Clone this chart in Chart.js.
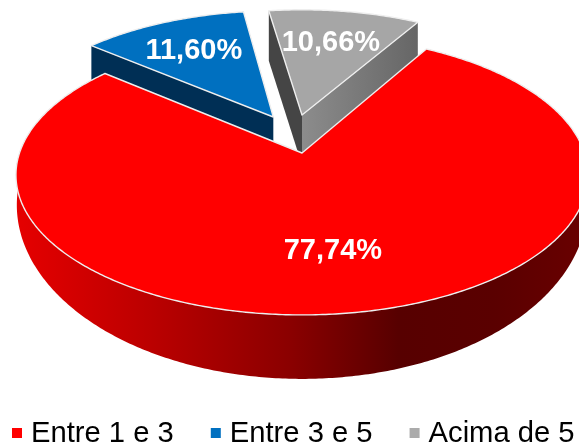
<!DOCTYPE html>
<html><head><meta charset="utf-8">
<style>html,body{margin:0;padding:0;background:#fff;overflow:hidden}canvas{display:block}</style>
<script src="https://cdn.jsdelivr.net/npm/chart.js@4/dist/chart.umd.min.js"></script>
</head><body>
<canvas id="c" width="579" height="443"></canvas>
<script>
const categories = ['Entre 1 e 3', 'Entre 3 e 5', 'Acima de 5'];
const shares = [77.74, 11.60, 10.66];
const faceColors = ['#ff0000', '#0070c0', '#a6a6a6'];
const legendColors = ['#ff0000', '#0070c0', '#ababab'];

// perspective of the pie plane
const P = {x0: 302, y0: 153, R: 282.5, a: 136.5, t: 0.157};
const look = [
  {du: 0, dv: 0, r: 1, nudge: [-6, -2]},
  {du: -0.106, dv: -0.275, r: 0.97, wall: 46, nudge: [-2.5, 0]},
  {du: 0, dv: -0.291, r: 0.965, wall: 50, nudge: [-1, 0]}
];
function proj(u, v) {
  const p = 1 / (1 - P.t * v);
  return [P.x0 + P.R * u * p, P.y0 + P.a * v * p];
}
function pt(i, ang, f) {
  const l = look[i], k = (f === undefined ? 1 : f) * l.r;
  return proj(l.du + k * Math.cos(ang), l.dv + k * Math.sin(ang));
}
function poly(ctx, pts) {
  ctx.beginPath();
  pts.forEach((q, n) => n ? ctx.lineTo(q[0], q[1]) : ctx.moveTo(q[0], q[1]));
  ctx.closePath();
}
function arcPts(i, a, b) {
  const out = [], n = Math.ceil(Math.abs(b - a) / 0.01);
  for (let k = 0; k <= n; k++) out.push(pt(i, a + (b - a) * k / n));
  return out;
}
const fmt = v => v.toFixed(2).replace('.', ',') + '%';

const pie3d = {
  id: 'pie3d',
  beforeDatasetsDraw(chart) {
    const ctx = chart.ctx, arcs = chart.getDatasetMeta(0).data;
    ctx.save();
    ctx.lineJoin = 'round';
    const drop = (q, d) => [q[0], q[1] + d];
    // blue slice
    let s = arcs[1].startAngle, e = arcs[1].endAngle, d = look[1].wall;
    let A = pt(1, s), C = pt(1, 0, 0);
    poly(ctx, [A, C, drop(C, d), drop(A, d)]);
    ctx.fillStyle = '#002f55'; ctx.fill();
    face(ctx, 1, s, e);
    // grey slice
    s = arcs[2].startAngle; e = arcs[2].endAngle; d = look[2].wall;
    A = pt(2, s); C = pt(2, 0, 0);
    const B = pt(2, e);
    poly(ctx, [A, C, drop(C, d), drop(A, d)]);
    ctx.fillStyle = '#454545'; ctx.fill();
    const g = ctx.createLinearGradient(C[0], 0, B[0], 0);
    g.addColorStop(0, '#8c8c8c'); g.addColorStop(1, '#666666');
    poly(ctx, [C, B, drop(B, d), drop(C, d)]);
    ctx.fillStyle = g; ctx.fill();
    face(ctx, 2, s, e);
    // red slice: curved side first
    s = arcs[0].startAngle; e = arcs[0].endAngle;
    const top = arcPts(0, s, e);
    const bottom = top.map(q => {
      const k = (q[1] - 175) / 140;
      const dd = Math.max(0, 30 + 34 * k);
      return [303 + (q[0] - 303) * 0.997, q[1] + dd];
    });
    const sg = ctx.createLinearGradient(15, 0, 579, 0);
    sg.addColorStop(0, '#e60000');
    sg.addColorStop(0.24, '#bb0000');
    sg.addColorStop(0.49, '#8a0000');
    sg.addColorStop(0.68, '#570000');
    sg.addColorStop(0.85, '#5a0000');
    sg.addColorStop(1, '#680000');
    poly(ctx, top.concat(bottom.reverse()));
    ctx.fillStyle = sg; ctx.fill();
    face(ctx, 0, s, e);
    ctx.restore();
    return false; // the pie is painted in perspective above
  },
  afterDraw(chart) {
    const ctx = chart.ctx, arcs = chart.getDatasetMeta(0).data;
    ctx.save();
    ctx.fillStyle = '#fff';
    ctx.font = 'bold 29px "Liberation Sans", Arial, sans-serif';
    ctx.textAlign = 'center'; ctx.textBaseline = 'middle';
    arcs.forEach((a, i) => {
      const q = pt(i, (a.startAngle + a.endAngle) / 2, 0.67);
      ctx.fillText(fmt(shares[i]), q[0] + look[i].nudge[0], q[1] + look[i].nudge[1]);
    });
    // legend along the bottom edge
    ctx.font = '29.2px "Liberation Sans", Arial, sans-serif';
    ctx.textAlign = 'left'; ctx.textBaseline = 'alphabetic';
    let x = 12;
    categories.forEach((c, i) => {
      ctx.fillStyle = legendColors[i];
      ctx.fillRect(x, 428, 10, 10);
      ctx.fillStyle = '#000';
      ctx.fillText(c, x + 19, 442);
      x += 19 + ctx.measureText(c).width + 37;
    });
    ctx.restore();
  }
};
function face(ctx, i, s, e) {
  const pts = [pt(i, 0, 0)].concat(arcPts(i, s, e));
  poly(ctx, pts);
  ctx.fillStyle = faceColors[i]; ctx.fill();
  ctx.strokeStyle = '#eeeeee'; ctx.lineWidth = 1.4; ctx.stroke();
}

new Chart(document.getElementById('c'), {
  type: 'pie',
  data: {labels: categories, datasets: [{data: shares, backgroundColor: faceColors, borderWidth: 0}]},
  options: {
    responsive: false, animation: false, rotation: 30,
    plugins: {legend: {display: false}, tooltip: {enabled: false}}
  },
  plugins: [pie3d]
});
</script>
</body></html>
